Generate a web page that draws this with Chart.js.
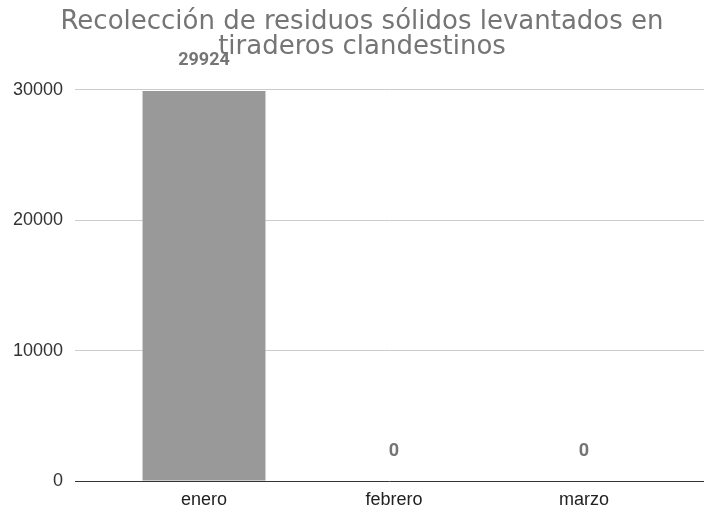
<!DOCTYPE html>
<html>
<head>
<meta charset="utf-8">
<script src="https://cdn.jsdelivr.net/npm/chart.js@4"></script>
<style>
  html, body { margin: 0; padding: 0; background: #fff; }
  #wrap { width: 704px; height: 512px; }
</style>
</head>
<body>
<div id="wrap"><canvas id="chart" width="704" height="512"></canvas></div>
<script>
'use strict';
// データ
const months = ['enero', 'febrero', 'marzo'];
const toneladas = [29924, 0, 0];
const yTicks = [0, 10000, 20000, 30000];
const titleLines = ['Recolección de residuos sólidos levantados en', 'tiraderos clandestinos'];

// カテゴリの左右に余白を作る (元グラフは端から少し内側に並ぶ)
// タイトルも少し右寄せ
const innerPadding = {
  id: 'innerPadding',
  afterLayout(chart) {
    const x = chart.scales.x;
    x._startPixel = x.left + 34;
    x._endPixel = x.right - 25;
    x._length = x._endPixel - x._startPixel;
    if (chart.titleBlock) chart.titleBlock.left = 20;
  },
};

// 棒の上に値を表示
const valueLabels = {
  id: 'valueLabels',
  afterDatasetsDraw(chart) {
    const ctx = chart.ctx;
    const meta = chart.getDatasetMeta(0);
    ctx.save();
    ctx.font = 'bold 18px Roboto';
    ctx.fillStyle = '#757575';
    ctx.textAlign = 'center';
    ctx.textBaseline = 'middle';
    meta.data.forEach((bar, i) => {
      ctx.fillText(String(toneladas[i]), bar.x, bar.y - 30);
    });
    ctx.restore();
  },
};

new Chart(document.getElementById('chart'), {
  type: 'bar',
  data: {
    labels: months,
    datasets: [{
      data: toneladas,
      backgroundColor: '#999999',
      barPercentage: 0.647,
      categoryPercentage: 1,
    }],
  },
  plugins: [innerPadding, valueLabels],
  options: {
    responsive: false,
    animation: false,
    layout: { padding: 0 },
    plugins: {
      legend: { display: false },
      tooltip: { enabled: false },
      title: {
        display: true,
        text: titleLines,
        color: '#757575',
        font: { family: 'DejaVu Sans', size: 26, weight: 'normal', lineHeight: 0.96 },
        padding: { top: 10, bottom: 30 },
      },
    },
    scales: {
      x: {
        grid: { display: false, drawTicks: false },
        border: { display: false },
        ticks: { color: '#222', font: { family: 'Liberation Sans', size: 18 }, padding: 8 },
        afterFit(scale) { scale.height = 31; },
      },
      y: {
        min: 0,
        max: 30000,
        afterBuildTicks(scale) { scale.ticks = yTicks.map(v => ({ value: v })); },
        grid: {
          drawTicks: false,
          color: (c) => (c.tick && c.tick.value === 0 ? '#333333' : '#cccccc'),
        },
        border: { display: false },
        ticks: {
          color: '#333',
          font: { family: 'Liberation Sans', size: 18 },
          padding: 12,
          callback: (v) => String(v),
        },
        afterFit(scale) { scale.width = 75; },
      },
    },
  },
});
</script>
</body>
</html>
